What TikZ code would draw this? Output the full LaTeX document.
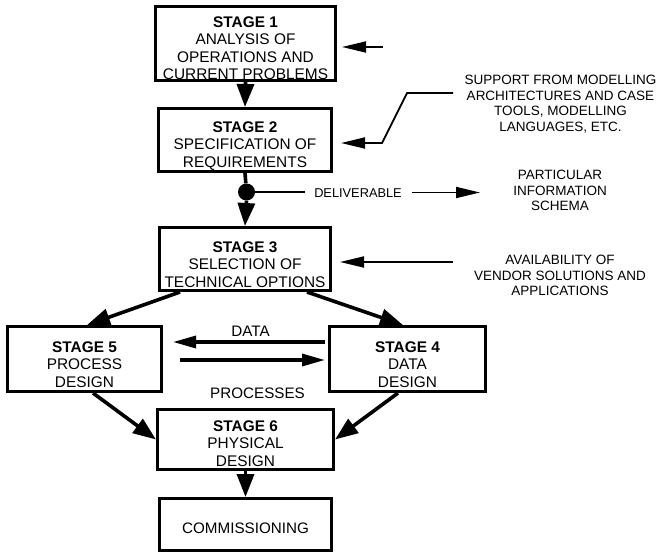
\documentclass[tikz,border=0pt]{standalone}
\usepackage{fontspec}
\setmainfont{Liberation Sans}
\usetikzlibrary{arrows.meta,calc}

\tikzset{
  stagebox/.style={draw, line width=3pt, inner sep=0pt},
  boxtext/.style={align=center, inner sep=0pt, anchor=north,
    font=\fontsize{15.4}{17.4}\selectfont},
  sidetext/.style={align=center, inner sep=0pt, anchor=north,
    font=\fontsize{13.5}{15.6}\selectfont},
  flowlabel/.style={inner sep=0pt, font=\fontsize{15.2}{17}\selectfont},
  mainarrow/.style={line width=3.6pt,
    -{Triangle[length=23pt,width=17pt]}},
  flatarrow/.style={line width=3.2pt,
    -{Triangle[length=23pt,width=12pt]}},
  sidearrow/.style={line width=1.8pt,
    -{Triangle[length=24pt,width=11pt]}},
  sideline/.style={line width=1.8pt},
}

\begin{document}
\begin{tikzpicture}[x=1pt, y=-1pt]
\useasboundingbox (0,0) rectangle (660,554);

% stage boxes (sizes are centre-line sizes, border is 3pt)
\node[stagebox, minimum width=180, minimum height=74] (s1) at (245.5,43.5) {};
\node[stagebox, minimum width=173, minimum height=63] (s2) at (245,140) {};
\node[stagebox, minimum width=171, minimum height=63] (s3) at (245,259) {};
\node[stagebox, minimum width=154, minimum height=65] (s5) at (84.5,359) {};
\node[stagebox, minimum width=156, minimum height=65] (s4) at (407.5,359) {};
\node[stagebox, minimum width=176, minimum height=60] (s6) at (245.5,439.5) {};
\node[stagebox, minimum width=172, minimum height=52] (cm) at (245.5,524.5) {};

% box texts
\node[boxtext] (s1t) at ($(s1.north)+(0,11.4)$)
  {\textbf{STAGE 1}\\ANALYSIS OF\\OPERATIONS AND\\CURRENT PROBLEMS};
\node[boxtext] (s2t) at ($(s2.north)+(0,14.4)$)
  {\textbf{STAGE 2}\\SPECIFICATION OF\\REQUIREMENTS};
\node[boxtext] (s3t) at ($(s3.north)+(0,15.4)$)
  {\textbf{STAGE 3}\\SELECTION OF\\TECHNICAL OPTIONS};
\node[boxtext] (s5t) at ($(s5.north)+(0,16.4)$)
  {\textbf{STAGE 5}\\PROCESS\\DESIGN};
\node[boxtext] (s4t) at ($(s4.north)+(0,16.4)$)
  {\textbf{STAGE 4}\\DATA\\DESIGN};
\node[boxtext] (s6t) at ($(s6.north)+(0,12.4)$)
  {\textbf{STAGE 6}\\PHYSICAL\\DESIGN};
\node[flowlabel] (cmt) at ($(cm.center)+(0,3.5)$) {COMMISSIONING};

% side texts
\node[sidetext] (support) at (560.5,75)
  {SUPPORT FROM MODELLING\\ARCHITECTURES AND CASE\\TOOLS, MODELLING\\LANGUAGES, ETC.};
\node[sidetext] (schema) at (560,170)
  {PARTICULAR\\INFORMATION\\SCHEMA};
\node[sidetext] (vendor) at (560,255)
  {AVAILABILITY OF\\VENDOR SOLUTIONS AND\\APPLICATIONS};

% flow labels
\node[flowlabel] (datalbl) at (250.5,331) {DATA};
\node[flowlabel] (proclbl) at (257.5,393) {PROCESSES};
\node[inner sep=0pt, font=\fontsize{12.8}{14}\selectfont] (deliv) at (358,193.5) {DELIVERABLE};

% main flow
\draw[mainarrow] (s1.south) -- (s2.north);
\node[circle, fill, inner sep=0pt, minimum size=17pt] (dot) at (246.5,192) {};
\draw[line width=3.6pt] (s2.south) -- (dot);
\draw[mainarrow] (dot.south) -- (s3.north);
\draw[mainarrow] ($(s3.south)+(-65,0)$) -- ($(s5.north)+(2.5,0)$);
\draw[mainarrow] ($(s3.south)+(62,0)$) -- ($(s4.north)+(-4.5,0)$);
\draw[mainarrow] ($(s5.south)+(8.5,0)$) -- (s6.west);
\draw[mainarrow] ($(s4.south)+(-9.5,0)$) -- (s6.east);
\draw[mainarrow] (s6.south) -- (cm.north);

% data / processes exchange
\draw[flatarrow] ($(s4.west)+(-3,-17)$) -- ($(s5.east)+(10,-17)$);
\draw[flatarrow] ($(s5.east)+(17,1)$) -- ($(s4.west)+(-3,1)$);

% deliverable
\coordinate (delivend) at (480,192.5);
\draw[sideline] (dot.east) -- ($(dot.east)+(50,0)$);
\draw[sidearrow] ($(deliv.east)+(10,-1)$) -- (delivend);

% side inputs
\coordinate (in1) at (383,47);
\draw[sidearrow] (in1) -- ($(s1.east)+(5,3.5)$);
\coordinate (in2a) at (453,93);
\coordinate (in2b) at (407,93);
\coordinate (in2c) at (382,143);
\draw[sidearrow] (in2a) -- (in2b) -- (in2c) -- ($(s2.east)+(8,3)$);
\coordinate (in3) at (453,262);
\draw[sidearrow] (in3) -- ($(s3.east)+(8,3)$);
\end{tikzpicture}
\end{document}
